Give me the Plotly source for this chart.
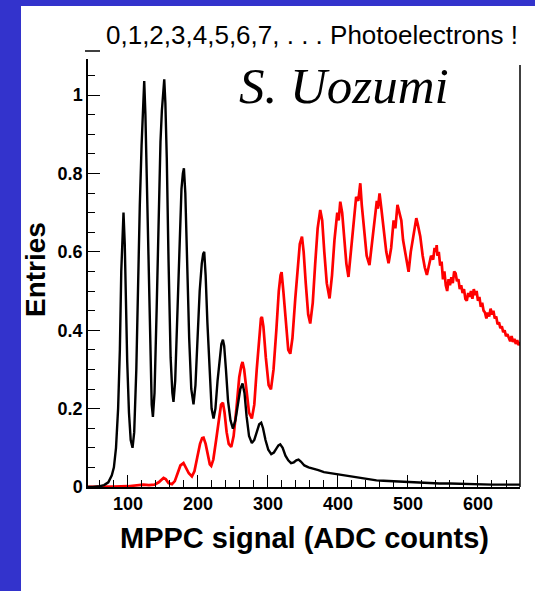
import plotly.graph_objects as go

# ---------------- data ----------------
black_x = [40, 50, 60, 66, 72, 77, 80, 83, 86, 88.5, 90.5, 92.5, 93.7, 95.5, 97, 99, 101.5, 104, 106.6,
           109, 112, 114.5, 117, 119.5, 121.5, 123.3, 125, 127, 129.5, 132, 134, 135.7,
           138, 141, 144, 146.5, 148.5, 150.5, 151.9, 153.5, 155.5, 158, 161, 163.5, 165.1,
           167.5, 170.5, 173.5, 176.5, 178.5, 180, 182, 184.5, 187.5, 190.5, 193.7,
           196.5, 199.5, 202.5, 205.5, 207.5, 209, 211, 213.5, 216.5, 219.5, 222.3,
           225, 228, 231, 233.5, 235.7, 237.5, 240, 243, 246.5, 250,
           253.5, 257, 260.5, 263.7, 266.5, 269.5, 273, 277,
           280.5, 284, 287.5, 290.4, 293, 296.5, 300.5, 304.7,
           308.5, 312, 315, 317.6, 321, 325, 329, 333,
           337, 340.5, 343.7, 347, 352, 358, 365, 372, 380, 387, 395, 405, 415, 425, 435, 445,
           455, 465, 475, 485, 500, 515, 530, 545, 560, 575, 590, 605, 620, 635, 650, 660]
black_y = [0, 0, 0.002, 0.005, 0.012, 0.03, 0.05, 0.10, 0.20, 0.35, 0.55, 0.67, 0.70, 0.62, 0.48, 0.32, 0.19, 0.12, 0.10,
           0.14, 0.30, 0.55, 0.72, 0.87, 0.98, 1.036, 0.95, 0.78, 0.55, 0.32, 0.21, 0.179,
           0.24, 0.45, 0.70, 0.88, 0.96, 1.01, 1.04, 0.98, 0.84, 0.58, 0.33, 0.24, 0.217,
           0.27, 0.42, 0.62, 0.76, 0.80, 0.813, 0.75, 0.58, 0.38, 0.25, 0.211,
           0.26, 0.38, 0.50, 0.57, 0.595, 0.60, 0.54, 0.42, 0.29, 0.20, 0.175,
           0.20, 0.27, 0.33, 0.365, 0.376, 0.36, 0.30, 0.22, 0.17, 0.149,
           0.17, 0.21, 0.25, 0.264, 0.24, 0.18, 0.13, 0.112,
           0.12, 0.14, 0.16, 0.164, 0.15, 0.12, 0.095, 0.084,
           0.088, 0.098, 0.106, 0.109, 0.10, 0.08, 0.068, 0.061,
           0.063, 0.068, 0.07, 0.065, 0.055, 0.05, 0.047, 0.043, 0.038, 0.036, 0.034, 0.031, 0.027, 0.024, 0.021, 0.019,
           0.017, 0.016, 0.015, 0.014, 0.013, 0.011, 0.01, 0.009, 0.009, 0.008, 0.007, 0.007, 0.006, 0.006, 0.006, 0.006]

red_x = [40, 60, 80, 100, 115, 122, 130, 138, 144, 148, 150.9, 154, 158, 162.9,
         167, 171, 175, 179.4, 183, 187, 191.4, 195, 199, 203, 206, 208, 211, 214, 217, 219,
         222, 226, 230, 233, 235.7, 238, 241, 244, 247.6, 251, 255, 259, 262, 263.7, 266, 269, 273, 277,
         280.5, 284, 288, 290, 291.4, 293.5, 297, 301, 304.3, 308, 312, 315.5, 318, 319.5, 322, 325.5, 329, 331.9,
         335, 339, 342.5, 345.5, 348.6, 351, 354, 357.5, 360.4, 364, 367.5, 371, 374.7, 377.5, 380.5, 384, 388,
         391.5, 395, 399, 401, 403.3, 406, 409, 412, 415, 418.5, 422, 426, 429, 431.9, 434, 437, 441, 445,
         448.5, 452, 455.5, 457, 459.4, 462, 465.5, 469, 472.3, 476, 479.5, 482, 485, 488, 490.5, 493, 497, 500.9,
         504, 508, 511.9, 514, 517.5, 521, 524, 527, 530, 533, 536, 538, 540, 541, 542, 544, 546, 548, 550, 552, 554,
         556, 558, 560, 562, 564, 566, 568, 570, 572, 574, 576, 578, 580, 582, 584, 586, 588, 590, 592, 594, 596, 598,
         600, 602, 604, 606, 608, 610, 612, 614, 616, 618, 620, 622, 624, 626, 628, 630, 632, 634, 636, 638, 640,
         642, 644, 646, 648, 650, 652, 654, 656, 658, 660]
red_y = [0, 0, 0.001, 0.002, 0.004, 0.006, 0.005, 0.006, 0.012, 0.02, 0.023, 0.02, 0.01, 0.007,
         0.015, 0.035, 0.055, 0.061, 0.05, 0.035, 0.027, 0.04, 0.075, 0.11, 0.125, 0.126, 0.11, 0.08, 0.058, 0.054,
         0.07, 0.12, 0.18, 0.21, 0.215, 0.19, 0.14, 0.11, 0.102, 0.13, 0.20, 0.28, 0.31, 0.319, 0.30, 0.25, 0.19, 0.175,
         0.21, 0.30, 0.40, 0.43, 0.434, 0.41, 0.33, 0.26, 0.249, 0.30, 0.40, 0.50, 0.54, 0.548, 0.50, 0.42, 0.35, 0.34,
         0.38, 0.48, 0.57, 0.62, 0.639, 0.60, 0.52, 0.44, 0.417, 0.47, 0.57, 0.66, 0.707, 0.68, 0.60, 0.52, 0.481,
         0.54, 0.63, 0.70, 0.68, 0.728, 0.70, 0.64, 0.57, 0.536, 0.60, 0.68, 0.74, 0.73, 0.775, 0.72, 0.66, 0.59, 0.566,
         0.62, 0.68, 0.73, 0.71, 0.749, 0.71, 0.65, 0.60, 0.571, 0.61, 0.68, 0.66, 0.72, 0.70, 0.68, 0.63, 0.59, 0.549,
         0.60, 0.65, 0.686, 0.67, 0.64, 0.59, 0.56, 0.541, 0.57, 0.59, 0.58, 0.61, 0.60, 0.617, 0.59, 0.60, 0.565, 0.575, 0.53, 0.55, 0.515,
         0.50, 0.53, 0.515, 0.535, 0.52, 0.55, 0.545, 0.525, 0.53, 0.505, 0.515, 0.495, 0.505, 0.48, 0.475, 0.495, 0.485, 0.50, 0.48, 0.505, 0.49, 0.50,
         0.475, 0.485, 0.46, 0.47, 0.45, 0.445, 0.43, 0.445, 0.435, 0.455, 0.44, 0.45, 0.43, 0.435, 0.415, 0.42, 0.405, 0.41, 0.395, 0.40, 0.385,
         0.39, 0.38, 0.372, 0.385, 0.37, 0.378, 0.365, 0.375, 0.362, 0.37]

x_range = [43, 660]
y_range = [0, 1.092]
top_text = "0,1,2,3,4,5,6,7, . . . Photoelectrons !"
author_text = "S. Uozumi"
x_title = "MPPC signal (ADC counts)"
y_title = "Entries"

# ---------------- layout geometry ----------------
W, H = 535, 591
ML, MR, MT, MB = 88, 15, 59, 104
PW, PH = W - ML - MR, H - MT - MB

def px(x):
    return (x - ML) / PW

def py(y):
    return 1 - (y - MT) / PH

fig = go.Figure()
fig.add_trace(go.Scatter(x=red_x, y=red_y, mode="lines",
                         line=dict(color="#ff0000", width=2.7), showlegend=False, cliponaxis=True))
fig.add_trace(go.Scatter(x=black_x, y=black_y, mode="lines",
                         line=dict(color="black", width=2.4), showlegend=False, cliponaxis=True))

tickfont = dict(family="Liberation Sans, Arial", size=18, color="black", weight="bold")

fig.update_xaxes(range=x_range, showline=True, linecolor="black", linewidth=1.5,
                 ticks="inside", ticklen=12, tickwidth=1.3, tickcolor="black",
                 tick0=0, dtick=100, showgrid=False, zeroline=False, tickfont=tickfont,
                 minor=dict(ticks="inside", ticklen=7, dtick=20, tickcolor="black", tickwidth=1.3, showgrid=False))
fig.update_yaxes(range=y_range, showline=True, linecolor="black", linewidth=1.5,
                 ticks="inside", ticklen=12, tickwidth=1.3, tickcolor="black",
                 tick0=0, dtick=0.2, showgrid=False, zeroline=False, tickfont=tickfont,
                 minor=dict(ticks="inside", ticklen=7, dtick=0.05, tickcolor="black", tickwidth=1.3, showgrid=False))

shapes = [
    dict(type="rect", xref="paper", yref="paper", x0=px(21), x1=px(540), y0=py(6), y1=py(600),
         fillcolor="white", line=dict(width=0), layer="below"),
    dict(type="line", xref="paper", yref="paper", x0=1, x1=1, y0=0, y1=py(65),
         line=dict(color="black", width=1.5)),
    dict(type="line", xref="paper", yref="paper", x0=px(85), x1=px(100), y0=py(51), y1=py(51),
         line=dict(color="black", width=1.5)),
]

annotations = [
    dict(text=top_text, xref="paper", yref="paper", x=px(312), y=py(35), showarrow=False,
         xanchor="center", yanchor="middle", font=dict(family="Liberation Sans, Arial", size=26, color="black")),
    dict(text=author_text, xref="paper", yref="paper", x=px(344), y=py(86), showarrow=False,
         xanchor="center", yanchor="middle",
         font=dict(family="Liberation Serif, Times New Roman", size=51, color="black", style="italic")),
    dict(text=x_title, xref="paper", yref="paper", x=px(304), y=py(538), showarrow=False,
         xanchor="center", yanchor="middle",
         font=dict(family="Liberation Sans, Arial", size=29, color="black", weight="bold")),
    dict(text=y_title, xref="paper", yref="paper", x=px(35), y=py(270), showarrow=False,
         xanchor="center", yanchor="middle", textangle=-90,
         font=dict(family="Liberation Sans, Arial", size=28, color="black", weight="bold")),
]

fig.update_layout(width=W, height=H, autosize=False,
                  margin=dict(l=ML, r=MR, t=MT, b=MB, pad=0),
                  paper_bgcolor="#3333cc", plot_bgcolor="white",
                  shapes=shapes, annotations=annotations, showlegend=False)

fig.write_html("out.html")
